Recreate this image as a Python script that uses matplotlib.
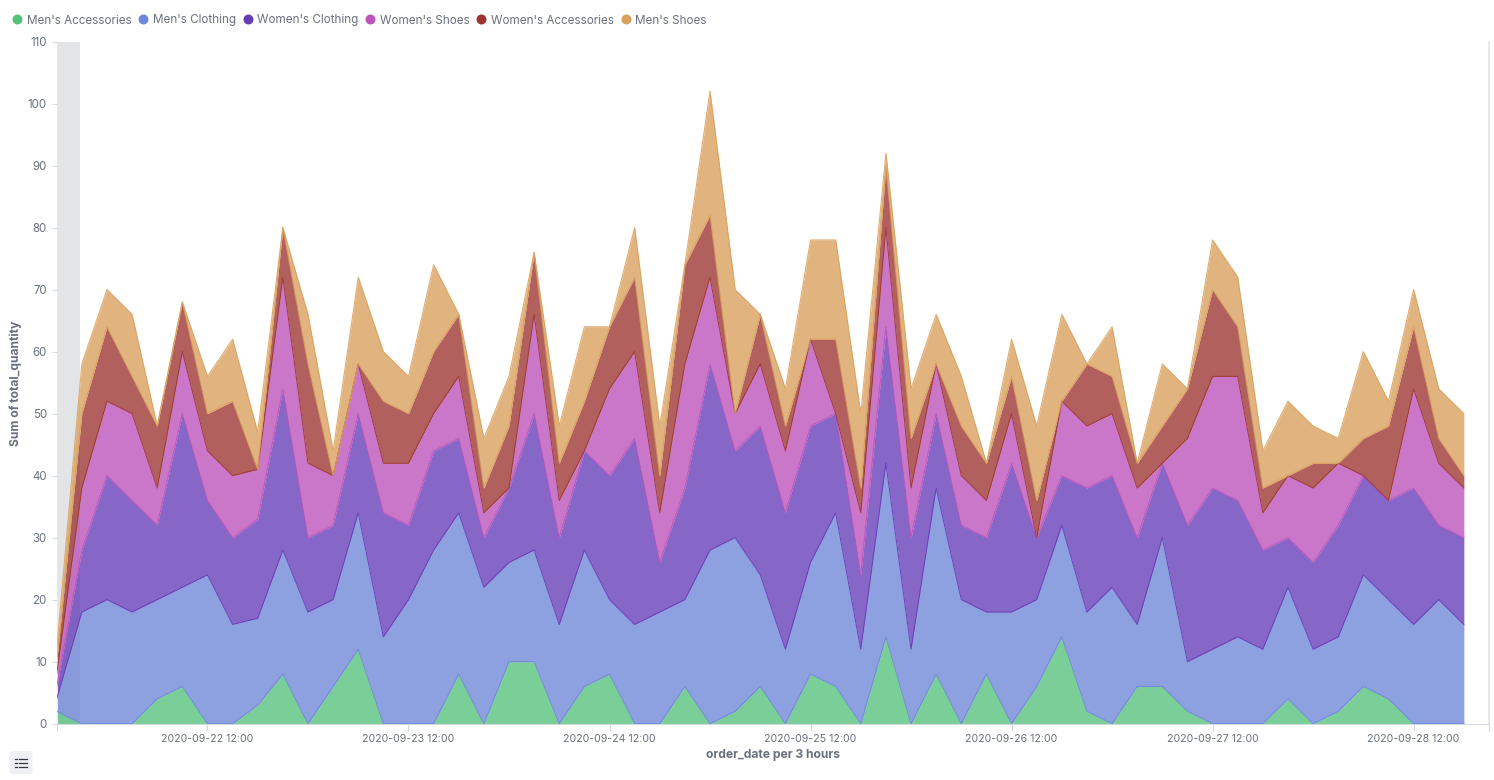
import numpy as np
import pandas as pd
import matplotlib
matplotlib.use('Agg')
import matplotlib.pyplot as plt
import matplotlib.dates as mdates
from matplotlib.lines import Line2D
from matplotlib.patches import FancyBboxPatch

plt.rcParams['font.family'] = ['Inter', 'DejaVu Sans']

W, H = 1494, 780
TEXT = '#69707d'
AXIS = '#d3dae6'

dates = pd.date_range('2020-09-21 18:00', periods=57, freq='3h')
partial_end = pd.Timestamp('2020-09-21 20:47')

names = ["Men's Accessories", "Men's Clothing", "Women's Clothing",
         "Women's Shoes", "Women's Accessories", "Men's Shoes"]
colors = ['#57c17b', '#6f87d8', '#663db8', '#bc52bc', '#9e3533', '#daa05d']

mens_accessories = [2, 0, 0, 0, 4, 6, 0, 0, 3, 8, 0, 6, 12, 0, 0, 0, 8, 0, 10, 10,
                    0, 6, 8, 0, 0, 6, 0, 2, 6, 0, 8, 6, 0, 14, 0, 8, 0, 8, 0, 6,
                    14, 2, 0, 6, 6, 2, 0, 0, 0, 4, 0, 2, 6, 4, 0, 0, 0]
mens_clothing = [2, 18, 20, 18, 16, 16, 24, 16, 14, 20, 18, 14, 22, 14, 20, 28, 26, 22, 16, 18,
                 16, 22, 12, 16, 18, 14, 28, 28, 18, 12, 18, 28, 12, 28, 12, 30, 20, 10, 18, 14,
                 18, 16, 22, 10, 24, 8, 12, 14, 12, 18, 12, 12, 18, 16, 16, 20, 16]
womens_clothing = [2, 10, 20, 18, 12, 28, 12, 14, 16, 26, 12, 12, 16, 20, 12, 16, 12, 8, 12, 22,
                   14, 16, 20, 30, 8, 18, 30, 14, 24, 22, 22, 16, 12, 22, 18, 12, 12, 12, 24, 10,
                   8, 20, 18, 14, 12, 22, 26, 22, 16, 8, 14, 18, 16, 16, 22, 12, 14]
womens_shoes = [2, 10, 12, 14, 6, 10, 8, 10, 8, 18, 12, 8, 8, 8, 10, 6, 10, 4, 0, 16,
                6, 0, 14, 14, 8, 20, 14, 6, 10, 10, 14, 0, 10, 16, 8, 8, 8, 6, 8, 0,
                12, 10, 10, 8, 0, 14, 18, 20, 6, 10, 12, 10, 0, 0, 16, 10, 8]
womens_accessories = [2, 12, 12, 6, 10, 8, 6, 12, 0, 8, 16, 0, 0, 10, 8, 10, 10, 4, 10, 10,
                      6, 8, 10, 12, 6, 16, 10, 0, 8, 4, 0, 12, 4, 10, 8, 0, 8, 6, 6, 6,
                      0, 10, 6, 4, 6, 8, 14, 8, 4, 0, 4, 0, 6, 12, 10, 4, 2]
mens_shoes = [2, 8, 6, 10, 0, 0, 6, 10, 6, 0, 8, 4, 14, 8, 6, 14, 0, 8, 8, 0,
              6, 12, 0, 8, 8, 0, 20, 20, 0, 6, 16, 16, 12, 2, 8, 8, 8, 0, 6, 12,
              14, 0, 8, 0, 10, 0, 8, 8, 6, 12, 6, 4, 14, 4, 6, 8, 10]

series = [mens_accessories, mens_clothing, womens_clothing,
          womens_shoes, womens_accessories, mens_shoes]

fig = plt.figure(figsize=(W / 100, H / 100), dpi=100)
ax = fig.add_axes([56.7 / W, 1 - 723.7 / H, (1489 - 56.7) / W, (723.7 - 41.5) / H])

# partial bucket shading
ax.axvspan(dates[0], partial_end, color='#e3e4e6', lw=0, zorder=0)

bottom = np.zeros(len(dates))
for vals, color in zip(series, colors):
    top = bottom + np.array(vals)
    ax.fill_between(dates, bottom, top, color=color, alpha=0.79, lw=0, zorder=2)
    bottom = top

# boundary between two areas takes the colour of the area above it
bottom = np.zeros(len(dates))
for i, vals in enumerate(series):
    bottom = bottom + np.array(vals)
    ax.plot(dates, bottom, color=colors[min(i + 1, 5)], lw=0.8, alpha=0.85, zorder=3)

ax.set_xlim(dates[0], dates[-1] + pd.Timedelta(hours=3))
ax.set_ylim(0, 110)

ax.set_yticks(np.arange(0, 111, 10))
ax.xaxis.set_major_locator(mdates.HourLocator(byhour=[12]))
ax.xaxis.set_major_formatter(mdates.DateFormatter('%Y-%m-%d %H:%M'))
ax.set_xticks([dates[0], dates[-1] + pd.Timedelta(hours=3)], minor=True)
ax.tick_params(axis='x', which='major', length=5, width=0.8, color=AXIS, labelcolor=TEXT,
               labelsize=7.6, pad=2.5)
ax.tick_params(axis='x', which='minor', length=5, width=0.8, color=AXIS)
ax.tick_params(axis='y', length=3.6, width=0.8, color=AXIS, labelcolor=TEXT, labelsize=8.3, pad=3.4)

ax.spines['top'].set_visible(False)
ax.spines['bottom'].set_color(AXIS)
ax.spines['left'].set_color('#e6e8ec')
ax.spines['right'].set_color('#e3e4e6')
ax.spines['right'].set_linewidth(1.2)
ax.set_axisbelow(False)

fig.text(15.5 / W, 1 - 383 / H, 'Sum of total_quantity', rotation=90, ha='center', va='center',
         color=TEXT, fontsize=8.7, fontweight='bold')
fig.text(773.5 / W, 1 - 755 / H, 'order_date per 3 hours', ha='center', va='center',
         color=TEXT, fontsize=8.7, fontweight='bold')

handles = [Line2D([], [], ls='', marker='o', ms=7.2, mfc=c, mec=c, mew=0) for c in colors]
fig.legend(handles, names, loc='center left', bbox_to_anchor=(11.5 / W, 1 - 20.5 / H), ncol=6,
           frameon=False, fontsize=8.4, labelcolor=TEXT, handlelength=1, handletextpad=0.31,
           columnspacing=0.52, borderpad=0, borderaxespad=0)

# list toggle button, bottom left
btn = FancyBboxPatch((9.5 / W, 1 - 774 / H), 23 / W, 23 / H, transform=fig.transFigure,
                     boxstyle='round,pad=0,rounding_size=0.002', fc='#eef0f4', ec='none',
                     mutation_aspect=W / H)
fig.add_artist(btn)
for py in [758.5, 762.5, 766.5]:
    fig.add_artist(Line2D([15 / W, 16.5 / W], [1 - py / H] * 2, color='#343741', lw=0.9))
    fig.add_artist(Line2D([18.5 / W, 27 / W], [1 - py / H] * 2, color='#343741', lw=0.9))

fig.savefig('out.png', dpi=100)
